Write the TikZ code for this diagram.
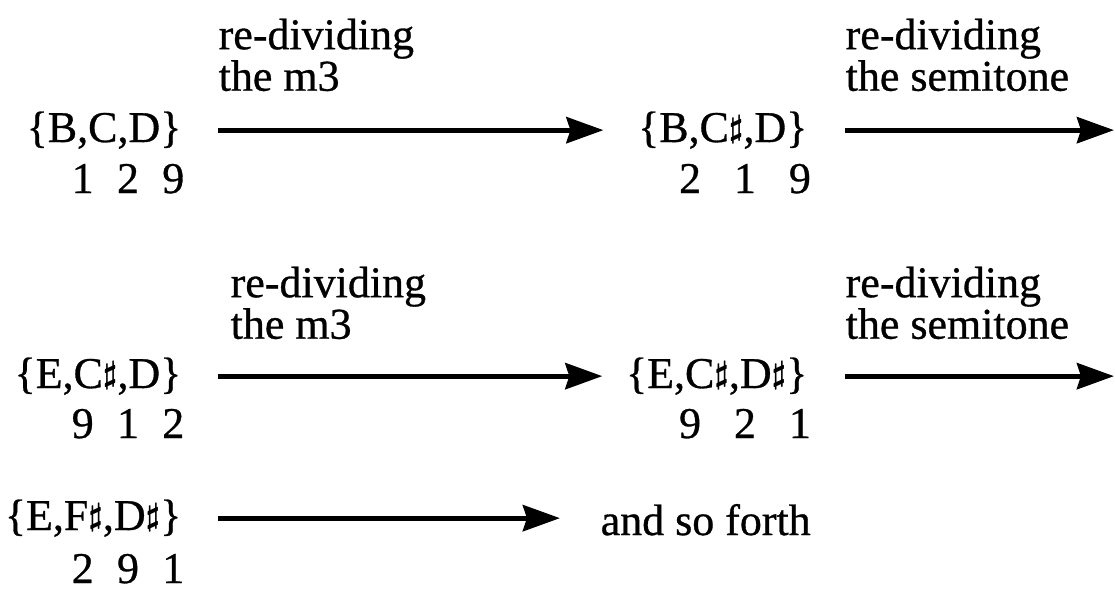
\documentclass[tikz,border=0pt]{standalone}
\usepackage{fontspec}
\setmainfont{Liberation Serif}[FakeBold=0.7]
\usetikzlibrary{arrows.meta}
\newcommand{\shp}{\raisebox{0.2ex}{\small\boldmath$\sharp$}}
\newcommand{\ints}[4]{\makebox[#1]{#2}\makebox[#1]{#3}\makebox[#1]{#4}}
\tikzstyle{edge} = [draw,line width=1.5pt,-{Stealth[length=0.37cm,width=0.26cm,inset=0.04cm]}]
\tikzstyle{pcset} = [inner sep=0pt,anchor=base east,font=\fontsize{12.5}{14}\selectfont]
\tikzstyle{nums} = [inner sep=0pt,anchor=base,font=\fontsize{12.5}{14}\selectfont]
\tikzstyle{move} = [inner sep=0pt,anchor=north west,align=left,font={\fontsize{12.5}{11.8}\selectfont\lineskiplimit=-10pt}]

\begin{document}
\begin{tikzpicture}[x=0.01cm,y=-0.01cm]
	\useasboundingbox (0,0) rectangle (1115,590);
	\node[pcset] (bcd) at (182,142) {\{B,C,D\}};
	\node[pcset] (bcsd) at (808,142) {\{B,C\shp,D\}};
	\node[pcset] (ecsd) at (182,388) {\{E,C\shp,D\}};
	\node[pcset] (ecsds) at (808,388) {\{E,C\shp,D\shp\}};
	\node[pcset] (efsds) at (182,530) {\{E,F\shp,D\shp\}};
	\node[pcset,anchor=base west] (forth) at (600,535) {and so forth};

	\node[nums] (n1) at (128,193) {\ints{1.03em}{1}{2}{9}};
	\node[nums] (n2) at (745,193) {\ints{1.25em}{2}{1}{9}};
	\node[nums] (n3) at (128,438) {\ints{1.03em}{9}{1}{2}};
	\node[nums] (n4) at (745,438) {\ints{1.25em}{9}{2}{1}};
	\node[nums] (n5) at (128,583) {\ints{1.03em}{2}{9}{1}};

	\node[move] (m1) at (218,18) {re-dividing\\the m3};
	\node[move] (m2) at (845,18) {re-dividing\\the semitone};
	\node[move] (m3) at (230,266) {re-dividing\\the m3};
	\node[move] (m4) at (845,266) {re-dividing\\the semitone};

	\coordinate (end1) at (1114,142);
	\coordinate (end2) at (1114,388);

	\foreach \source/\dest/\gapa/\gapb in {bcd/bcsd/0.36cm/0.34cm, ecsd/ecsds/0.36cm/0.23cm, efsds/forth/0.36cm/0.40cm}
	\path[edge,shorten <=\gapa,shorten >=\gapb] (\source.east) -- (\dest.west |- \source.east);
	\foreach \source/\dest in {bcsd/end1, ecsds/end2}
	\path[edge,shorten <=0.37cm] (\source.east) -- (\dest |- \source.east);
\end{tikzpicture}
\end{document}
